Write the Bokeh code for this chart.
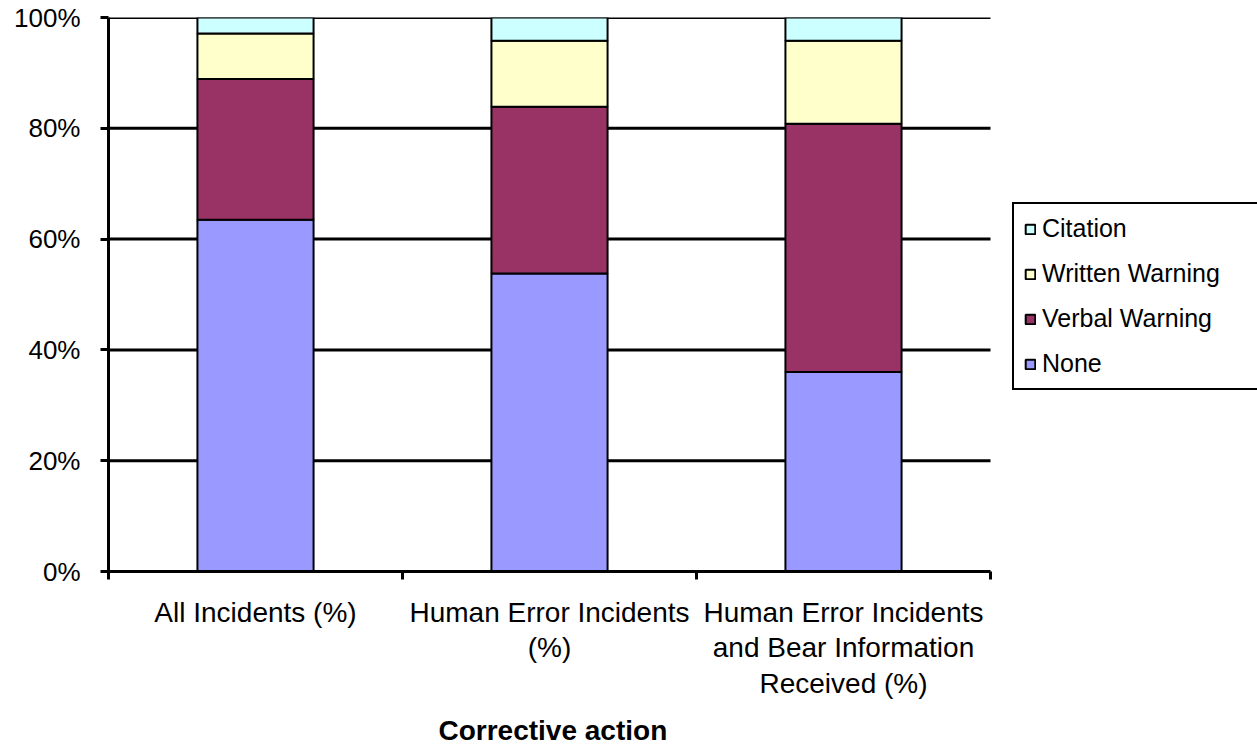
from bokeh.plotting import figure
from bokeh.models import (FixedTicker, PrintfTickFormatter, Legend, LegendItem,
                          ColumnDataSource, Range1d, Title)
from bokeh.embed import file_html
from bokeh.resources import INLINE

categories = ["All Incidents (%)",
              "Human Error Incidents\n(%)",
              "Human Error Incidents\nand Bear Information\nReceived (%)"]
series_names = ["None", "Verbal Warning", "Written Warning", "Citation"]
none_vals = [63.5, 53.8, 36.0]
verbal_vals = [25.4, 30.1, 44.8]
written_vals = [8.2, 11.9, 15.0]
citation_vals = [2.9, 4.2, 4.2]
y_ticks = [0, 20, 40, 60, 80, 100]
colors = ["#9999FF", "#993366", "#FFFFCC", "#CCFFFF"]
x_title = "Corrective action"

FONT = "Liberation Sans"
n = len(categories)
xs = [i + 0.5 for i in range(n)]
keys = ["none", "verbal", "written", "citation"]
src = ColumnDataSource(dict(x=xs, none=none_vals, verbal=verbal_vals,
                            written=written_vals, citation=citation_vals))

PLOT_W = 882   # width of the bar area in pixels
FRAME_W = 1149 # frame includes room for legend on the right
p = figure(frame_width=FRAME_W, frame_height=554,
           x_range=Range1d(0, n * FRAME_W / PLOT_W), y_range=Range1d(0, 100),
           output_backend="svg", toolbar_location=None,
           min_border_left=108, min_border_right=0,
           min_border_top=17, min_border_bottom=0)
p.outline_line_color = None
p.xgrid.visible = False
p.ygrid.visible = False

# horizontal gridlines limited to the category span
grid_src = ColumnDataSource(dict(y=y_ticks[1:], x0=[0] * (len(y_ticks) - 1),
                                 x1=[n] * (len(y_ticks) - 1)))
p.segment(x0="x0", x1="x1", y0="y", y1="y", source=grid_src,
          line_color="black", line_width=3, level="underlay")

rs = p.vbar_stack(keys, x="x", width=0.395, source=src,
                  fill_color=colors, line_color="black", line_width=2)

ya = p.yaxis[0]
ya.ticker = FixedTicker(ticks=y_ticks)
ya.formatter = PrintfTickFormatter(format="%d%%")
ya.axis_line_width = 3
ya.major_tick_out = 8
ya.major_tick_in = 0
ya.major_tick_line_width = 3
ya.minor_tick_line_color = None
ya.major_label_standoff = 20
ya.major_label_text_font = FONT
ya.major_label_text_font_size = "26px"
ya.major_label_text_color = "black"

xa = p.xaxis[0]
xa.bounds = (0, n)
xa.ticker = FixedTicker(ticks=xs, minor_ticks=list(range(n + 1)))
xa.major_label_overrides = {x: c for x, c in zip(xs, categories)}
xa.axis_line_width = 3
xa.major_tick_out = 0
xa.major_tick_in = 0
xa.minor_tick_out = 8
xa.minor_tick_in = 0
xa.minor_tick_line_width = 3
xa.minor_tick_line_color = "black"
xa.major_label_standoff = 17
xa.major_label_text_font = FONT
xa.major_label_text_font_size = "28px"
xa.major_label_text_color = "black"
xa.major_label_text_line_height = 1.15

title = Title(text=x_title, align="left", offset=330, standoff=23,
              text_font=FONT, text_font_size="28px", text_font_style="bold",
              text_color="black")
p.add_layout(title, "below")

items = [LegendItem(label=series_names[i], renderers=[rs[i]]) for i in [3, 2, 1, 0]]
legend = Legend(items=items, location=(904, 181), margin=0, padding=10,
                spacing=16, label_height=20, label_width=205,
                glyph_width=12, glyph_height=12,
                label_standoff=6, border_line_color="black", border_line_width=2,
                border_line_alpha=1.0,
                label_text_font=FONT, label_text_font_size="25px",
                label_text_color="black", background_fill_alpha=1.0)
p.add_layout(legend, "center")

open("out.html", "w").write(file_html(p, INLINE))
